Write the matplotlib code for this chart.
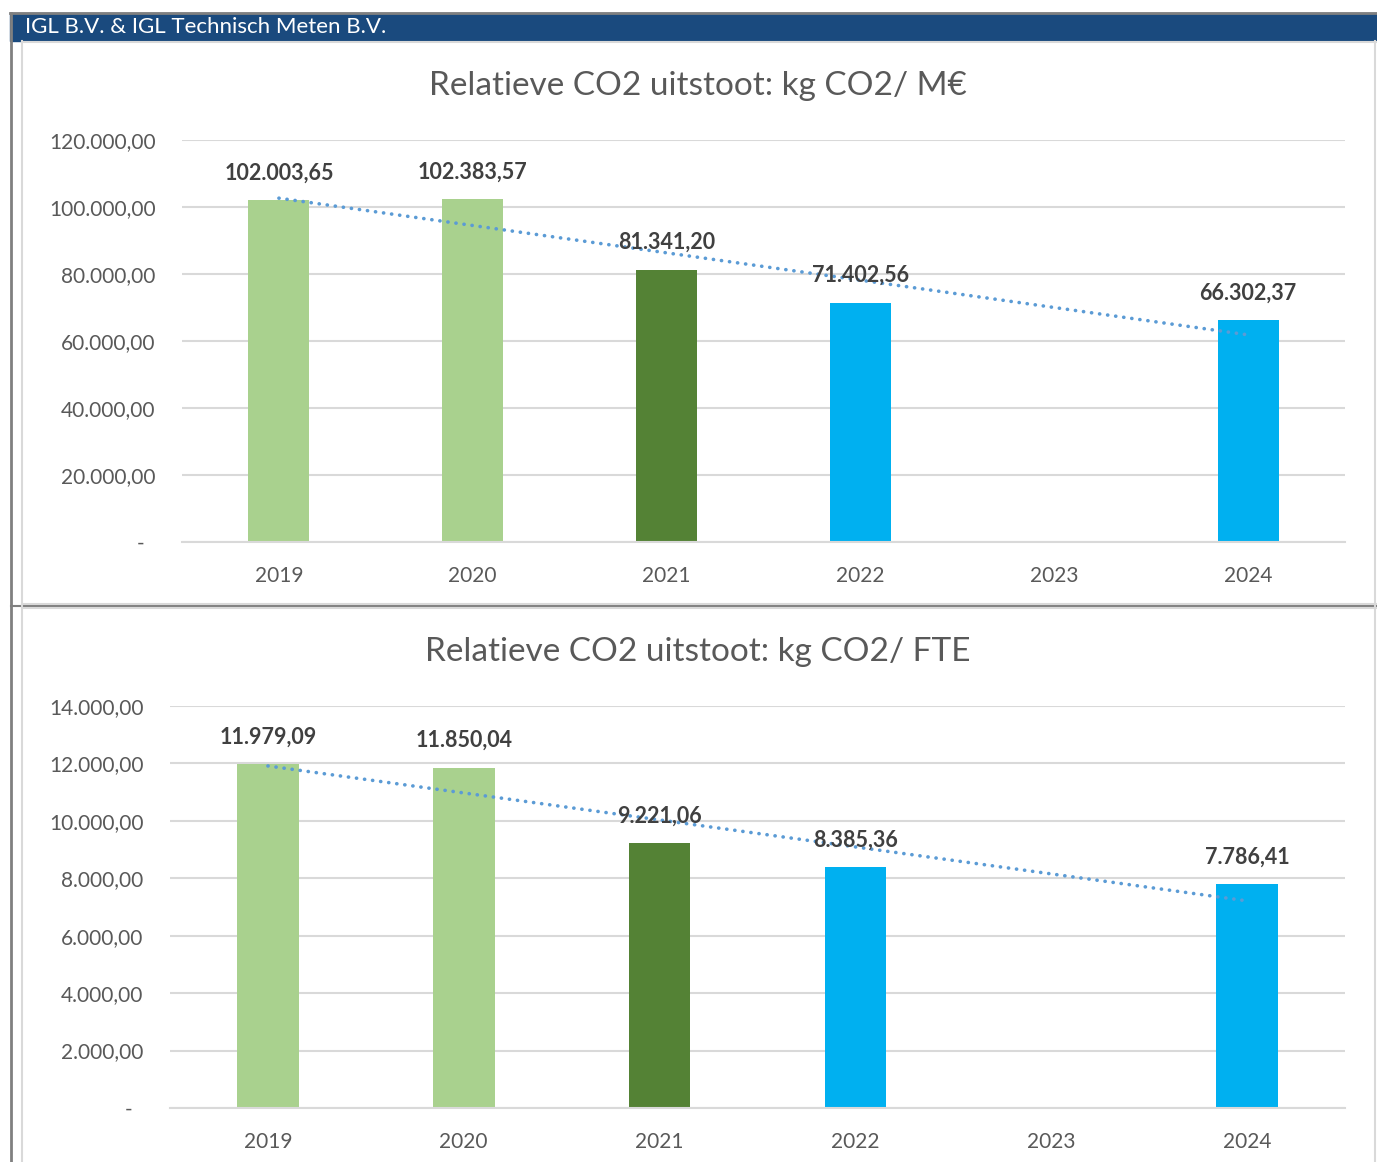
import numpy as np
import matplotlib.pyplot as plt
from matplotlib.patches import Rectangle
from matplotlib.lines import Line2D

years = ['2019', '2020', '2021', '2022', '2023', '2024']
co2_per_meur = [102003.65, 102383.57, 81341.20, 71402.56, np.nan, 66302.37]
co2_per_fte = [11979.09, 11850.04, 9221.06, 8385.36, np.nan, 7786.41]
bar_colors = ['#A9D18E', '#A9D18E', '#548235', '#00B0F0', '#00B0F0', '#00B0F0']

titles = ['Relatieve CO2 uitstoot: kg CO2/ M\u20ac', 'Relatieve CO2 uitstoot: kg CO2/ FTE']
header = 'IGL B.V. & IGL Technisch Meten B.V.'

plt.rcParams['font.family'] = ['Lato', 'DejaVu Sans']

W, H = 1377, 1162
fig = plt.figure(figsize=(W / 100, H / 100), dpi=100)


def fx(px):
    return px / W


def fy(py):
    return 1 - py / H


def fmt(v):
    s = f'{v:,.2f}'
    return s.replace(',', 'X').replace('.', ',').replace('X', '.')


# frame / header
fig.add_artist(Rectangle((fx(10), fy(41)), fx(1367), 28 / H, color='#1A4A7E', zorder=0))
fig.add_artist(Line2D([fx(10), 1], [fy(13), fy(13)], color='#808080', lw=2))
fig.add_artist(Line2D([fx(11), fx(11)], [fy(13), 0], color='#808080', lw=2))
fig.add_artist(Line2D([fx(11), 1], [fy(606), fy(606)], color='#808080', lw=1.5))
fig.add_artist(Line2D([fx(22), fx(22)], [fy(41), 0], color='#D9D9D9', lw=1.5))
fig.add_artist(Line2D([fx(1375), fx(1375)], [fy(41), 0], color='#D9D9D9', lw=1.5))
fig.add_artist(Line2D([fx(22), 1], [fy(42), fy(42)], color='#D9D9D9', lw=1.5))
fig.add_artist(Line2D([fx(22), 1], [fy(604), fy(604)], color='#D9D9D9', lw=1.5))
fig.add_artist(Line2D([fx(22), 1], [fy(608), fy(608)], color='#D9D9D9', lw=1.5))
fig.text(fx(25), fy(27), header, color='white', fontsize=16, fontweight='normal',
         family=['Lato', 'DejaVu Sans'], va='center', ha='left')

panels = [
    dict(vals=co2_per_meur, left=182, top=140, bottom=542, ymax=120000, step=20000, title_y=86),
    dict(vals=co2_per_fte, left=170, top=706, bottom=1108, ymax=14000, step=2000, title_y=652),
]

for p, title in zip(panels, titles):
    ax = fig.add_axes([fx(p['left']), fy(p['bottom']), (1345 - p['left']) / W,
                       (p['bottom'] - p['top']) / H])
    x = np.arange(len(years))
    vals = np.array(p['vals'])
    ax.bar(x, np.nan_to_num(vals), width=0.315, color=bar_colors, zorder=2)
    for xi, v in zip(x, vals):
        if not np.isnan(v):
            ax.annotate(fmt(v), (xi, v), xytext=(0, 12), textcoords='offset points',
                        ha='center', va='bottom', fontsize=15.5, fontweight='bold',
                        color='#404040', zorder=4)
    # linear trendline
    ok = ~np.isnan(vals)
    k, b = np.polyfit(x[ok] + 1, vals[ok], 1)
    ax.plot([0, 5], [k * 1 + b, k * 6 + b], color='#5B9BD5', lw=2.6,
            linestyle=(0, (0.05, 2.2)), dash_capstyle='round', zorder=3)

    ax.set_xlim(-0.5, 5.5)
    ax.set_ylim(0, p['ymax'])
    ticks = np.arange(0, p['ymax'] + 1, p['step'])
    ax.set_yticks(ticks)
    ax.set_yticklabels(['-  '] + [fmt(t) for t in ticks[1:]])
    ax.set_xticks(x)
    ax.set_xticklabels(years)
    ax.grid(axis='y', color='#D9D9D9', lw=1.5, zorder=0)
    for s in ['top', 'right', 'left']:
        ax.spines[s].set_visible(False)
    ax.spines['bottom'].set_color('#D9D9D9')
    ax.spines['bottom'].set_linewidth(1.5)
    ax.tick_params(axis='both', length=0, labelsize=15, labelcolor='#595959')
    ax.tick_params(axis='y', pad=19)
    ax.tick_params(axis='x', pad=17)
    fig.text(fx(698), fy(p['title_y']), title, ha='center', va='center',
             fontsize=24, color='#595959')

fig.savefig('out.png', dpi=100)
